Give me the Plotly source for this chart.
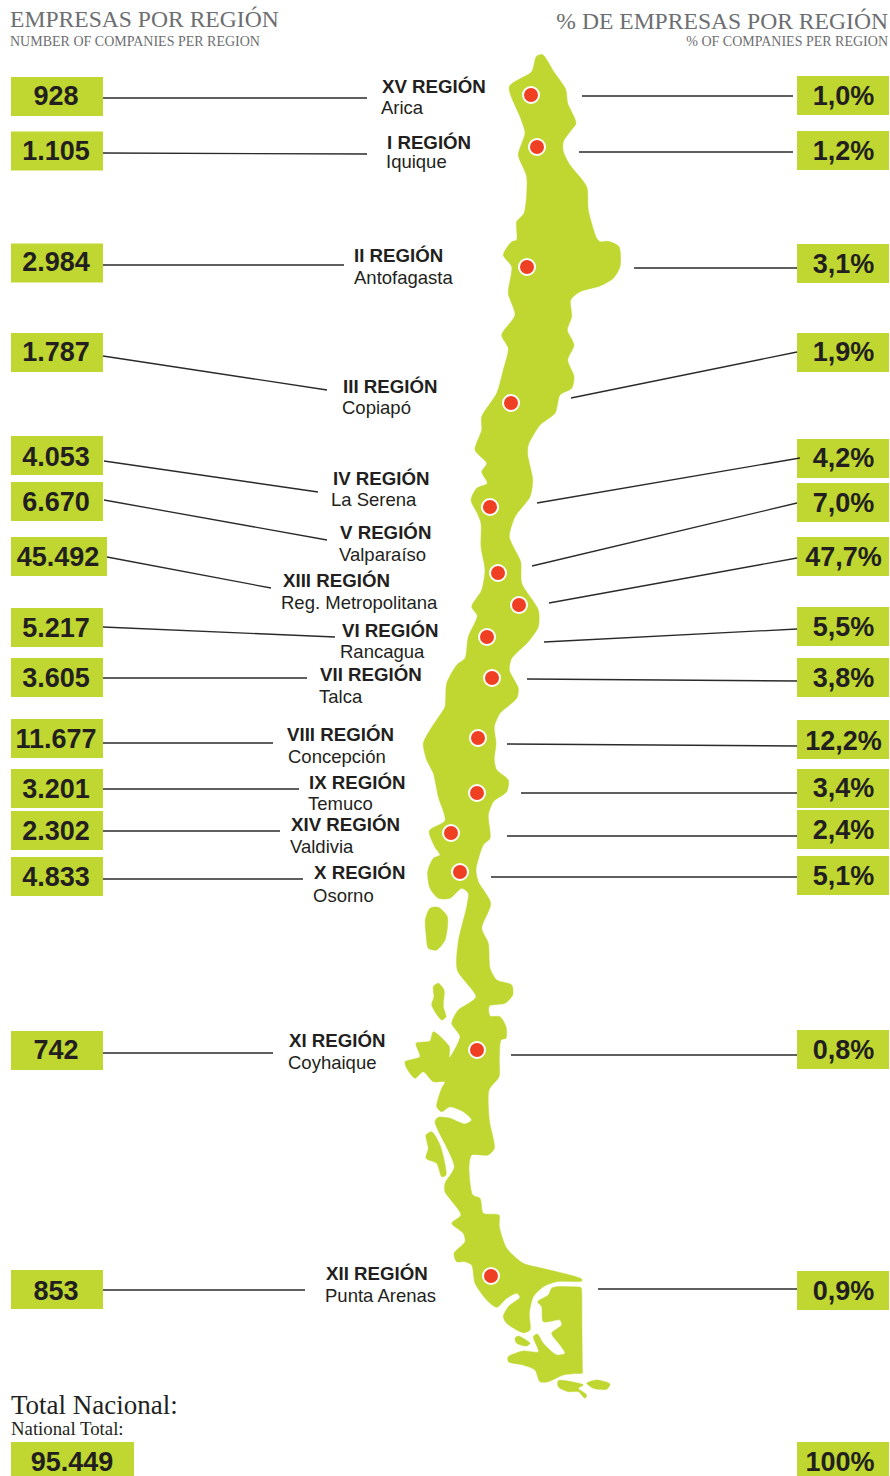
import plotly.graph_objects as go

# ---------- data ----------
REGION_NAMES = ["XV REGIÓN", "I REGIÓN", "II REGIÓN", "III REGIÓN", "IV REGIÓN", "V REGIÓN",
                "XIII REGIÓN", "VI REGIÓN", "VII REGIÓN", "VIII REGIÓN", "IX REGIÓN",
                "XIV REGIÓN", "X REGIÓN", "XI REGIÓN", "XII REGIÓN"]
CITIES = ["Arica", "Iquique", "Antofagasta", "Copiapó", "La Serena", "Valparaíso",
          "Reg. Metropolitana", "Rancagua", "Talca", "Concepción", "Temuco", "Valdivia",
          "Osorno", "Coyhaique", "Punta Arenas"]
COMPANIES = [928, 1105, 2984, 1787, 4053, 6670, 45492, 5217, 3605, 11677, 3201, 2302, 4833, 742, 853]
SHARES = [1.0, 1.2, 3.1, 1.9, 4.2, 7.0, 47.7, 5.5, 3.8, 12.2, 3.4, 2.4, 5.1, 0.8, 0.9]
TOTAL_COMPANIES = 95449
TOTAL_SHARE = "100%"

# ---------- layout positions (page pixels) ----------
LEFT_BOX_Y = [96.5, 151, 263, 352.5, 455.5, 501.5, 556.5, 627.5, 677.5, 738.5, 788.5, 830.5, 876.5, 1050.5, 1289.5]
LEFT_BOX_W = [92, 92, 92, 92, 92, 92, 96, 92, 92, 92, 92, 92, 92, 92, 92]
RIGHT_BOX_Y = [95.5, 150.5, 263.5, 352.5, 458.5, 502.5, 556.5, 626.5, 677.5, 739.5, 788.5, 829.5, 875.5, 1049.5, 1290.5]
LEFT_TEXT_Y = [98.5, 153.5, 264.5, 354.5, 459.5, 504.5, 559.5, 630.5, 680.5, 741.5, 791.5, 833.5, 879.5, 1052.5, 1293.5]
RIGHT_TEXT_Y = [98.5, 153.5, 266.5, 354.5, 460.5, 505.5, 559.5, 629.5, 680.5, 743.5, 790.5, 832.5, 878.5, 1052.5, 1293.5]

LEFT_LINE_X0 = [103, 103, 103, 103, 104, 104, 107, 103, 103, 103, 103, 103, 103, 103, 103]
LEFT_LINE_Y0 = [98, 153, 265, 356, 461, 500, 557, 627, 678, 743, 789, 831, 879, 1053, 1290]
LEFT_LINE_X1 = [367, 367, 344, 327, 318, 327, 271, 335, 307, 273, 299, 280, 303, 273, 305]
LEFT_LINE_Y1 = [98, 154, 265, 390, 492, 540, 588, 637, 678, 743, 789, 831, 879, 1053, 1290]

RIGHT_LINE_X0 = [582, 579, 634, 571, 537, 532, 549, 544, 527, 507, 521, 507, 491, 511, 598]
RIGHT_LINE_Y0 = [96, 152, 268, 398, 503, 566, 603, 642, 679, 744, 793, 836, 877, 1055, 1289]
RIGHT_LINE_X1 = [793, 793, 797, 797, 800, 797, 797, 797, 797, 797, 797, 797, 797, 797, 797]
RIGHT_LINE_Y1 = [96, 152, 268, 352, 458, 503, 558, 629, 681, 746, 793, 836, 877, 1055, 1289]

NAME_X = [382, 387, 354, 343, 333, 340, 283, 342, 320, 287, 309, 291, 314, 289, 326]
NAME_Y = [88, 144, 257, 388, 480, 534, 582, 632, 676, 736, 784, 826, 874, 1042, 1275]
CITY_X = [381, 386, 354, 342, 331, 339, 281, 340, 319, 288, 308, 290, 313, 288, 325]
CITY_Y = [109.5, 163.5, 279.5, 409.5, 501.5, 556.5, 604.5, 653.5, 698.5, 758.5, 805.5, 848.5, 897.5, 1064.5, 1297.5]

DOT_X = [531, 537, 527, 511, 490, 498, 519, 487, 492, 478, 477, 451, 460, 477, 491]
DOT_Y = [95, 147, 267, 403, 507, 573, 605, 637, 678, 738, 793, 833, 872, 1050, 1276]

# ---------- map outlines (page pixels) ----------
MAINLAND = [
    (536.7,56),(542.7,54.7),(554,72),(565.7,89.3),(567.7,103.3),(576,123.3),(570,131.7),(563.3,141.7),(563.3,151.7),
    (570,165),(586.7,186.7),(588.3,210),(596.7,238.3),(600,241.7),(608.3,241.3),(619,246.7),(620,266.7),
    (613.3,278.3),(600,286),(580,291.7),(570.7,300),(571.7,316.7),(567.3,330),(574,345),(567.7,360),
    (574,376.7),(571.7,388.3),(560,395),(555,413.3),(540,425),(528.3,445),(527.7,455),(532.7,480),(530,496.7),
    (515,516.7),(509.3,536.7),(515,550),(520.7,561.7),(521.7,583.3),(538.3,610),(538.3,626.7),(528.3,641.7),
    (511.7,658.3),(509.3,670),(518.3,688.3),(516.7,698.3),(500,713.3),(494.3,726.7),(496,743.3),(494.3,760),
    (496.7,770),(508.3,780),(506.7,791.7),(493.3,801.7),(488.3,815),(490,838.3),(483.3,845),(476,870),
    (478.3,881.7),(490.7,903.3),(481.7,928.3),(488.3,943.3),(490,968.3),(496.7,980),(511.7,985),(512.7,995),
    (505,1003.3),(489.3,1006),(490,1016),(500,1016.7),(506,1026.7),(506,1038.3),(501,1040),(499.3,1060),
    (499,1076.7),(489,1090),(489.3,1120),(494.3,1148.3),(488.3,1155),(471.7,1155),(469,1166.7),(472.7,1195),
    (480,1198.3),(483.3,1213.3),(499,1215),(499.3,1226.7),(506.7,1248.3),(523.3,1263.3),(546.7,1269.3),
    (581.7,1279),(581.7,1281),(556.7,1281.7),(543.3,1286.7),(533.3,1296.7),(529.3,1313.3),(530,1330),
    (523.3,1332.7),(506.7,1323.3),(503.3,1316.7),(508.3,1306.7),(520,1297.3),(516.7,1293.3),(506.7,1298.3),
    (496.7,1307.3),(486.7,1300),(475,1283.3),(471.7,1265),(465,1261.7),(456.7,1261.7),(454,1253.3),(465,1241.7),
    (463.3,1233.3),(451.7,1223.3),(461,1215),(445,1191.7),(445,1183.3),(454.3,1166.7),(435,1121.7),(438.3,1117.3),
    (450,1118.3),(465,1124),(471.7,1120),(463.3,1111.7),(450,1106.7),(441.7,1111.7),(436.7,1106.7),(441.7,1088.3),
    (445,1081.7),(433.3,1081.7),(423.3,1071.7),(415,1078.3),(406.7,1068.3),(405,1061.7),(420,1056.7),(416,1043.3),
    (430,1041),(433.3,1031.7),(449.3,1046.7),(449.3,1057.7),(460,1036.7),(451.7,1023.3),(458.3,1010),(466,1005),
    (476,996.7),(457.3,970),(458.3,941.7),(466.7,906.7),(468.3,893.3),(461.7,888.3),(450,898.3),(438.3,898.3),
    (430,888.3),(427.7,871.7),(433.3,858.3),(440,855),(435,847.3),(429.3,830.7),(445,820.7),(438.3,796.7),
    (433.3,773.3),(426.7,760),(423.3,743.3),(430,730),(440,715),(445,706.7),(446.7,683.3),(456.7,665),(465,658.3),
    (468.3,636.7),(477.3,615.7),(471.7,606.7),(481.7,590),(485,570),(481,546.7),(481,523.3),(477.3,513.3),(471,500),
    (476.7,488.3),(487.3,483.3),(481.7,471.7),(486.7,463.3),(475,450),(481.7,430),(481.7,416.7),(496.7,393.3),
    (503.3,370),(508.3,348.3),(501.7,335),(515,315),(508.3,293.3),(511.7,266.7),(503.3,255),(511.7,241.7),
    (516.7,240),(516.7,221.7),(524,213.3),(526.7,176.7),(518.3,155),(525,133.3),(520.7,118.3),(509.3,86.7),
    (531.7,71.7),(535,60),(536.7,56),
]
ISLANDS = [
    [(425.3,920),(430,908.3),(438.3,907.3),(447.3,916.7),(445,940),(436.7,950),(428.3,948.3),(426,933.3),(425.3,920)],
    [(433.3,986.7),(438.3,983.3),(444,990),(443.3,1006.7),(446,1016.7),(441.7,1020),(431.7,1005),(434,996.7),(433.3,986.7)],
    [(426,1135),(431.7,1131.7),(440,1145),(446,1175),(441.7,1176.7),(436.7,1163.3),(426,1158.3),(428.3,1148.3),(426,1135)],
    [(556.7,1286.7),(570,1286.8),(581,1287.7),(581.7,1292),(581.9,1310),(582,1330),(582.2,1350),(582.4,1368),(582.4,1373),
     (576,1373.6),(563.3,1375),(548.3,1381.7),(540,1381.7),(535,1370),
     (523.3,1365),(508.3,1361.7),(508.3,1356.7),(523.3,1351),(538.3,1351.7),(533.3,1336.7),(537.3,1334),(543.3,1343.3),
     (556.7,1355),(565,1353.3),(560,1345),(551.7,1333.3),(561.7,1325),(560,1320),(543.3,1321.7),(541.7,1306.7),
     (537.7,1301.7),(548.3,1295),(551.7,1288.3),(556.7,1286.7)],
    [(515,1338.3),(518.3,1336),(530,1343.3),(526.7,1346),(516.7,1343.3),(515,1338.3)],
    [(558.3,1380.7),(583.3,1385),(578.3,1388.3),(586.7,1395),(585,1398.3),(578.3,1391.7),(568.3,1391.7),(558.3,1386.7),(558.3,1380.7)],
    [(586.7,1383.3),(596.7,1380),(610,1384),(606.7,1389.3),(593.3,1388.3),(586.7,1383.3)],
]

# ---------- styles ----------
GREEN = "#bfd730"
RED = "#f04023"
INK = "#231f20"
GREY = "#6d6e71"
SANS = "Liberation Sans, Arial, sans-serif"
SERIF = "Liberation Serif, Times New Roman, serif"


def fmt_count(v):
    return f"{v:,}".replace(",", ".")


def fmt_share(v):
    return f"{v:.1f}".replace(".", ",") + "%"


fig = go.Figure()

# map
for outline in [MAINLAND] + ISLANDS:
    fig.add_trace(go.Scatter(
        x=[p[0] for p in outline], y=[p[1] for p in outline], mode="lines",
        line=dict(color=GREEN, width=0.5, shape="spline", smoothing=0.7),
        fill="toself", fillcolor=GREEN, hoverinfo="skip", showlegend=False))

# leader lines
for xs0, ys0, xs1, ys1 in [(LEFT_LINE_X0, LEFT_LINE_Y0, LEFT_LINE_X1, LEFT_LINE_Y1),
                           (RIGHT_LINE_X0, RIGHT_LINE_Y0, RIGHT_LINE_X1, RIGHT_LINE_Y1)]:
    lx, ly = [], []
    for a, b, c, d in zip(xs0, ys0, xs1, ys1):
        lx += [a, c, None]
        ly += [b, d, None]
    fig.add_trace(go.Scatter(x=lx, y=ly, mode="lines", line=dict(color="#2b2a2b", width=1.3),
                             hoverinfo="skip", showlegend=False))

# boxes
BOX_H = 39
TOTAL_BOX_Y = 1461
TOTAL_BOX_H = 38
fig.add_trace(go.Bar(orientation="h", base=[11] * 15 + [11], x=LEFT_BOX_W + [123],
                     y=LEFT_BOX_Y + [TOTAL_BOX_Y], width=[BOX_H] * 15 + [TOTAL_BOX_H],
                     marker=dict(color=GREEN, line=dict(width=0)), hoverinfo="skip", showlegend=False))
fig.add_trace(go.Bar(orientation="h", base=[797] * 16, x=[92] * 16,
                     y=RIGHT_BOX_Y + [TOTAL_BOX_Y], width=[BOX_H] * 15 + [TOTAL_BOX_H],
                     marker=dict(color=GREEN, line=dict(width=0)), hoverinfo="skip", showlegend=False))

# dots
fig.add_trace(go.Scatter(x=DOT_X, y=DOT_Y, mode="markers",
                         marker=dict(color=RED, size=16, line=dict(color="white", width=2)),
                         text=CITIES, hoverinfo="text", showlegend=False))


def text_trace(x, y, text, size, color, family, pos="middle right", bold=False):
    labels = [f"<b>{t}</b>" if bold else t for t in text]
    fig.add_trace(go.Scatter(x=x, y=y, mode="text", text=labels, textposition=pos,
                             textfont=dict(size=size, color=color, family=family),
                             hoverinfo="skip", showlegend=False, cliponaxis=False))


# region labels
text_trace(NAME_X, NAME_Y, REGION_NAMES, 18.7, INK, SANS, bold=True)
text_trace(CITY_X, CITY_Y, CITIES, 18.5, INK, SANS)

# box values
left_cx = [b + w / 2 - 1 for b, w in zip([11] * 15, LEFT_BOX_W)]
text_trace(left_cx, LEFT_TEXT_Y, [fmt_count(v) for v in COMPANIES], 27, INK, SANS, "middle center", True)
text_trace([843.5] * 15, RIGHT_TEXT_Y, [fmt_share(v) for v in SHARES], 27, INK, SANS, "middle center", True)
text_trace([72, 840], [1464, 1464], [fmt_count(TOTAL_COMPANIES), TOTAL_SHARE], 27, INK, SANS, "middle center", True)

# titles
text_trace([10], [21], ["EMPRESAS POR REGIÓN"], 23.6, GREY, SERIF)
text_trace([10], [42], ["NUMBER OF COMPANIES PER REGION"], 14, GREY, SERIF)
text_trace([888], [23], ["% DE EMPRESAS POR REGIÓN"], 23.6, GREY, SERIF, "middle left")
text_trace([888], [42], ["% OF COMPANIES PER REGION"], 14, GREY, SERIF, "middle left")
text_trace([11], [1407], ["Total Nacional:"], 27, INK, SERIF)
text_trace([11], [1430], ["National Total:"], 18.8, INK, SERIF)

fig.update_layout(
    width=890, height=1476, margin=dict(l=0, r=0, t=0, b=0),
    paper_bgcolor="white", plot_bgcolor="white", showlegend=False, barmode="overlay",
    xaxis=dict(range=[0, 890], visible=False, fixedrange=True),
    yaxis=dict(range=[1476, 0], visible=False, fixedrange=True),
)
fig.write_html("out.html", config=dict(displayModeBar=False),
               post_script="document.body.style.margin='0';document.documentElement.style.overflow='hidden';")
